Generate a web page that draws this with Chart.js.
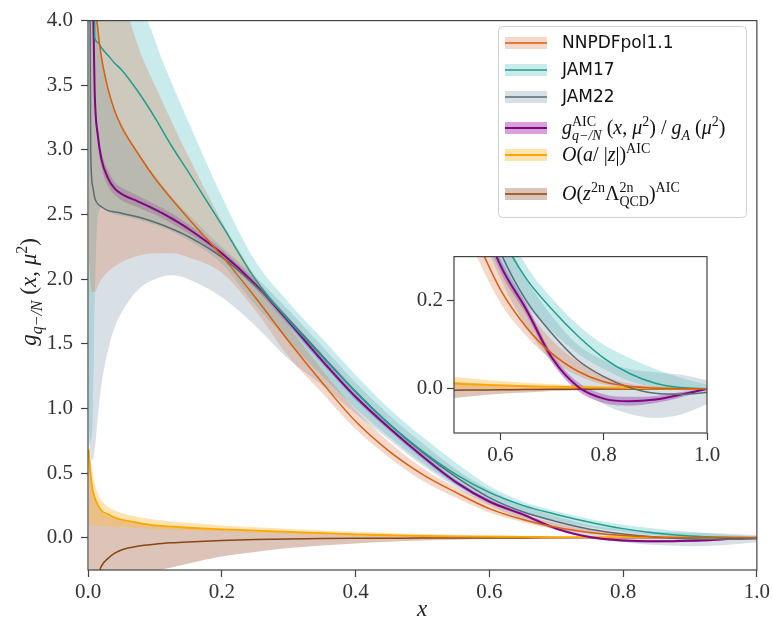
<!DOCTYPE html>
<html>
<head>
<meta charset="utf-8">
<script src="https://cdn.jsdelivr.net/npm/chart.js@4.4.1/dist/chart.umd.min.js"></script>
<style>
  html, body { margin: 0; padding: 0; background: #fff; }
  #wrap { position: relative; width: 773px; height: 626px; }
  canvas { position: absolute; }
  #main { left: 0; top: 0; }
  #inset { left: 400px; top: 240px; }
</style>
</head>
<body>
<div id="wrap">
  <canvas id="main" width="773" height="626"></canvas>
  <canvas id="inset" width="330" height="240"></canvas>
</div>
<script>
// x grid shared by all curves
const X = [0.001, 0.004, 0.007, 0.01, 0.015, 0.02, 0.03, 0.04, 0.05, 0.075, 0.1, 0.125, 0.15, 0.2, 0.25,
           0.3, 0.35, 0.4, 0.45, 0.5, 0.55, 0.6, 0.65, 0.7, 0.75, 0.8, 0.85, 0.9, 0.95, 1.0];

// NNPDFpol1.1
const NNPDF_MID = [8, 6.5, 5.2, 4.3, 3.92, 3.72, 3.47, 3.3, 3.18, 2.97, 2.78, 2.62, 2.47, 2.18, 1.86, 1.52, 1.2, 0.9, 0.67, 0.49, 0.35, 0.225, 0.14, 0.08, 0.04, 0.016, 0.006, 0.002, 0.0005, 0];
const NNPDF_HI  = [9, 8, 7, 6, 5.5, 5.2, 4.8, 4.5, 4.25, 3.8, 3.5, 3.22, 2.95, 2.45, 2.02, 1.64, 1.3, 0.99, 0.74, 0.54, 0.39, 0.27, 0.18, 0.11, 0.062, 0.03, 0.012, 0.005, 0.002, 0];
const NNPDF_LO  = [2.2, 1.95, 1.9, 1.9, 1.95, 2.0, 2.06, 2.1, 2.13, 2.18, 2.2, 2.2, 2.17, 2.05, 1.76, 1.4, 1.12, 0.84, 0.62, 0.44, 0.31, 0.195, 0.12, 0.065, 0.03, 0.01, 0.002, 0, 0, 0];

// JAM17
const JAM17_MID = [7, 6.5, 6, 3.87, 3.83, 3.79, 3.73, 3.67, 3.62, 3.45, 3.25, 3.03, 2.83, 2.42, 2.0, 1.68, 1.4, 1.13, 0.88, 0.67, 0.49, 0.35, 0.25, 0.18, 0.12, 0.07, 0.035, 0.013, 0.003, 0];
const JAM17_HI  = [9, 9, 9, 8, 7.5, 7, 6.5, 6, 5.5, 4.3, 3.85, 3.52, 3.22, 2.64, 2.14, 1.82, 1.54, 1.26, 1.0, 0.78, 0.58, 0.4, 0.28, 0.205, 0.145, 0.1, 0.07, 0.045, 0.025, 0.01];
const JAM17_LO  = [0.7, 0.75, 0.9, 1.8, 2.5, 2.55, 2.52, 2.5, 2.49, 2.46, 2.42, 2.37, 2.3, 2.12, 1.8, 1.52, 1.25, 1.0, 0.78, 0.58, 0.41, 0.28, 0.19, 0.13, 0.08, 0.045, 0.018, 0.004, -0.003, -0.01];

// JAM22
const JAM22_MID = [7, 3.0, 2.72, 2.63, 2.58, 2.56, 2.53, 2.52, 2.51, 2.48, 2.44, 2.39, 2.33, 2.17, 1.95, 1.69, 1.41, 1.13, 0.88, 0.66, 0.47, 0.31, 0.2, 0.125, 0.065, 0.028, 0.003, -0.01, -0.012, -0.008];
const JAM22_HI  = [9, 6, 5, 4.3, 3.95, 3.75, 3.5, 3.32, 3.2, 2.98, 2.8, 2.64, 2.5, 2.25, 2.02, 1.76, 1.48, 1.2, 0.95, 0.73, 0.53, 0.37, 0.25, 0.165, 0.1, 0.065, 0.045, 0.038, 0.032, 0.02];
const JAM22_LO  = [0.9, 0.62, 0.6, 0.68, 0.95, 1.18, 1.45, 1.63, 1.74, 1.92, 2.0, 2.03, 2.0, 1.86, 1.64, 1.38, 1.18, 0.96, 0.76, 0.56, 0.39, 0.25, 0.14, 0.06, 0.005, -0.035, -0.057, -0.066, -0.058, -0.035];

// g^AIC / g_A
const AIC_MID = [7, 5.5, 4.3, 3.45, 3.1, 2.93, 2.78, 2.7, 2.66, 2.6, 2.54, 2.47, 2.39, 2.2, 1.96, 1.67, 1.37, 1.09, 0.85, 0.63, 0.43, 0.28, 0.18, 0.07, 0.005, -0.022, -0.028, -0.024, -0.013, 0];
const AIC_HI  = [7.3, 5.7, 4.42, 3.53, 3.16, 2.99, 2.84, 2.75, 2.71, 2.645, 2.58, 2.51, 2.425, 2.23, 1.99, 1.7, 1.395, 1.115, 0.87, 0.65, 0.448, 0.295, 0.192, 0.08, 0.015, -0.012, -0.018, -0.016, -0.007, 0];
const AIC_LO  = [6.7, 5.3, 4.18, 3.37, 3.04, 2.87, 2.72, 2.65, 2.61, 2.555, 2.5, 2.43, 2.355, 2.17, 1.93, 1.64, 1.345, 1.065, 0.83, 0.61, 0.412, 0.265, 0.168, 0.06, -0.005, -0.032, -0.038, -0.032, -0.019, 0];

// O(a/|z|)
const AZ_MID = [0.68, 0.48, 0.37, 0.31, 0.25, 0.21, 0.18, 0.155, 0.14, 0.115, 0.095, 0.085, 0.077, 0.065, 0.055, 0.045, 0.035, 0.026, 0.019, 0.013, 0.01, 0.008, 0.006, 0.005, 0.004, 0.003, 0.002, 0.001, 0.0005, 0];
const AZ_HI  = [0.75, 0.6, 0.5, 0.42, 0.34, 0.29, 0.24, 0.21, 0.19, 0.16, 0.14, 0.125, 0.115, 0.095, 0.08, 0.068, 0.055, 0.045, 0.036, 0.028, 0.023, 0.018, 0.014, 0.011, 0.008, 0.006, 0.004, 0.002, 0.001, 0];
const AZ_LO  = [0.1, 0.1, 0.098, 0.095, 0.092, 0.09, 0.086, 0.083, 0.08, 0.072, 0.065, 0.06, 0.055, 0.045, 0.037, 0.028, 0.02, 0.012, 0.006, 0.002, 0.001, 0, 0, 0, 0, 0, 0, 0, 0, 0];

// O(z^2n Lambda^2n)
const LQ_MID = [-3, -1, -0.6, -0.42, -0.3, -0.22, -0.16, -0.12, -0.095, -0.065, -0.05, -0.04, -0.033, -0.022, -0.015, -0.01, -0.007, -0.005, -0.004, -0.003, -0.0025, -0.002, -0.0015, -0.001, -0.0008, -0.0005, -0.0003, -0.0002, -0.0001, 0];
const LQ_HI  = [0.65, 0.46, 0.36, 0.3, 0.24, 0.2, 0.17, 0.15, 0.135, 0.11, 0.09, 0.08, 0.072, 0.06, 0.05, 0.042, 0.035, 0.028, 0.022, 0.017, 0.013, 0.01, 0.008, 0.006, 0.004, 0.003, 0.002, 0.001, 0, 0];
const LQ_LO  = [-6, -3, -2, -1.5, -1.1, -0.9, -0.7, -0.55, -0.45, -0.32, -0.26, -0.23, -0.2, -0.145, -0.11, -0.08, -0.06, -0.045, -0.032, -0.022, -0.016, -0.011, -0.008, -0.005, -0.003, -0.002, -0.001, 0, 0, 0];

const X_TICKS = [0.0, 0.2, 0.4, 0.6, 0.8, 1.0];
const Y_TICKS = [0.0, 0.5, 1.0, 1.5, 2.0, 2.5, 3.0, 3.5, 4.0];
const INSET_X_TICKS = [0.6, 0.8, 1.0];
const INSET_Y_TICKS = [0.0, 0.2];

const MATH = '"Liberation Serif", "DejaVu Serif", serif';
const AXIS = '#444';

const SERIES = [
  { mid: NNPDF_MID, hi: NNPDF_HI, lo: NNPDF_LO, line: '#d95f0e', band: 'rgba(215,110,65,0.27)', w: 1.5 },
  { mid: JAM17_MID, hi: JAM17_HI, lo: JAM17_LO, line: '#1f9e8e', band: 'rgba(80,190,190,0.30)', w: 1.5 },
  { mid: JAM22_MID, hi: JAM22_HI, lo: JAM22_LO, line: '#5d6b74', band: 'rgba(120,145,160,0.28)', w: 1.5 },
  { mid: AIC_MID, hi: AIC_HI, lo: AIC_LO, line: '#850085', band: 'rgba(160,50,170,0.45)', w: 2 },
  { mid: AZ_MID, hi: AZ_HI, lo: AZ_LO, line: '#ffa500', band: 'rgba(255,185,60,0.40)', w: 1.8 },
  { mid: LQ_MID, hi: LQ_HI, lo: LQ_LO, line: '#8b4513', band: 'rgba(150,80,40,0.33)', w: 1.5 }
];

const pts = arr => X.map((x, i) => ({ x: x, y: arr[i] }));

function buildDatasets() {
  const lines = [], bands = [];
  SERIES.forEach((s, k) => {
    lines.push({ data: pts(s.mid), borderColor: s.line, borderWidth: s.w, pointRadius: 0, fill: false,
                 cubicInterpolationMode: 'monotone', clip: 0, order: k });
  });
  SERIES.forEach(s => {
    bands.push({ data: pts(s.hi), borderWidth: 0, pointRadius: 0, backgroundColor: s.band, fill: '+1',
                 cubicInterpolationMode: 'monotone', clip: 0, order: 20 });
    bands.push({ data: pts(s.lo), borderWidth: 0, pointRadius: 0, fill: false,
                 cubicInterpolationMode: 'monotone', clip: 0, order: 20 });
  });
  return lines.concat(bands);
}

// small math typesetter: i = italic, l = 1 sup / -1 sub, st = stack on previous token
function mathRun(ctx, toks, x, y, size, draw) {
  let cx = x, ps = x, pw = 0;
  toks.forEach(k => {
    const s = k.l ? Math.round(size * 0.7) : size;
    ctx.font = (k.i ? 'italic ' : '') + s + 'px ' + MATH;
    const w = ctx.measureText(k.t).width;
    const sx = k.st ? ps : cx;
    const dy = k.l === 1 ? -size * 0.4 : (k.l === -1 ? size * 0.28 : 0);
    if (draw) ctx.fillText(k.t, sx, y + dy);
    if (k.st) { cx = ps + Math.max(pw, w); } else { ps = sx; pw = w; cx = sx + w; }
  });
  return cx - x;
}

const LEGEND = [
  { text: 'NNPDFpol1.1', y: 43 },
  { text: 'JAM17', y: 70 },
  { text: 'JAM22', y: 97 },
  { math: [{t:'g',i:1},{t:'AIC',l:1},{t:'q\u2212/N',l:-1,i:1,st:1},{t:' ('},{t:'x',i:1},{t:', '},{t:'\u03bc',i:1},{t:'2',l:1},
           {t:') / '},{t:'g',i:1},{t:'A',l:-1,i:1},{t:' ('},{t:'\u03bc',i:1},{t:'2',l:1},{t:')'}], y: 128 },
  { math: [{t:'O',i:1},{t:'('},{t:'a',i:1},{t:'/ |'},{t:'z',i:1},{t:'|)'},{t:'AIC',l:1}], y: 155 },
  { math: [{t:'O',i:1},{t:'('},{t:'z',i:1},{t:'2n',l:1},{t:'\u039b'},{t:'2n',l:1},{t:'QCD',l:-1,st:1},{t:')'},{t:'AIC',l:1}], y: 194 }
];

const framePlugin = {
  id: 'frame',
  beforeDatasetsDraw(chart, args, opts) {
    if (!opts.white) return;
    const a = chart.chartArea, ctx = chart.ctx;
    ctx.save(); ctx.fillStyle = '#fff';
    ctx.fillRect(a.left, a.top, a.right - a.left, a.bottom - a.top);
    ctx.restore();
  },
  afterDraw(chart) {
    const a = chart.chartArea, ctx = chart.ctx;
    ctx.save(); ctx.strokeStyle = AXIS; ctx.lineWidth = 1.2;
    ctx.strokeRect(a.left, a.top, a.right - a.left, a.bottom - a.top);
    ctx.restore();
  }
};

const decorPlugin = {
  id: 'decor',
  afterDraw(chart) {
    const ctx = chart.ctx;
    ctx.save();
    // legend box
    ctx.beginPath();
    ctx.roundRect(498.5, 26.5, 248, 191, 4);
    ctx.fillStyle = 'rgba(255,255,255,0.85)'; ctx.fill();
    ctx.strokeStyle = '#d0d0d0'; ctx.lineWidth = 1; ctx.stroke();
    LEGEND.forEach((e, k) => {
      const s = SERIES[k], cy = e.y;
      ctx.fillStyle = s.band; ctx.fillRect(505, cy - 6, 42, 12);
      ctx.strokeStyle = s.line; ctx.lineWidth = s.w;
      ctx.beginPath(); ctx.moveTo(505, cy); ctx.lineTo(547, cy); ctx.stroke();
      ctx.fillStyle = '#111';
      if (e.text) {
        ctx.font = '17px "DejaVu Sans"'; ctx.textBaseline = 'middle';
        ctx.fillText(e.text, 562, cy + 1);
      } else {
        ctx.textBaseline = 'alphabetic';
        mathRun(ctx, e.math, 562, cy + 6, 20, true);
      }
    });
    // axis titles
    ctx.fillStyle = '#222'; ctx.textBaseline = 'alphabetic';
    ctx.font = 'italic 23px ' + MATH;
    ctx.textAlign = 'center'; ctx.fillText('x', 422, 616); ctx.textAlign = 'left';
    const ylab = [{t:'g',i:1},{t:'q\u2212/N',l:-1,i:1},{t:' ('},{t:'x',i:1},{t:', '},{t:'\u03bc',i:1},{t:'2',l:1},{t:')'}];
    ctx.translate(36, 292); ctx.rotate(-Math.PI / 2);
    const w = mathRun(ctx, ylab, 0, 0, 23, false);
    mathRun(ctx, ylab, -w / 2, 0, 23, true);
    ctx.restore();
  }
};

function axisOpts(min, max, ticks, fitKey, fitVal, pad) {
  return {
    type: 'linear', min: min, max: max,
    afterBuildTicks: s => { s.ticks = ticks.map(v => ({ value: v })); },
    afterFit: s => { s[fitKey] = fitVal; },
    grid: { drawOnChartArea: false, drawTicks: true, tickLength: 7, color: AXIS, tickWidth: 1.2 },
    border: { display: false },
    ticks: { font: { family: MATH, size: 21 }, color: '#333', padding: pad, maxRotation: 0,
             callback: v => Number(v).toFixed(1) }
  };
}

const common = {
  responsive: false, animation: false, events: [],
  plugins: { legend: { display: false }, tooltip: { enabled: false } }
};

new Chart(document.getElementById('main').getContext('2d'), {
  type: 'line',
  data: { datasets: buildDatasets() },
  options: Object.assign({}, common, {
    layout: { padding: { top: 16, right: 16, left: 0, bottom: 0 } },
    scales: {
      x: axisOpts(0, 1, X_TICKS, 'height', 56, 3),
      y: axisOpts(-0.25, 4.0, Y_TICKS, 'width', 88, 8)
    },
    plugins: Object.assign({}, common.plugins, { frame: { white: false } })
  }),
  plugins: [framePlugin, decorPlugin]
});

new Chart(document.getElementById('inset').getContext('2d'), {
  type: 'line',
  data: { datasets: buildDatasets() },
  options: Object.assign({}, common, {
    layout: { padding: { top: 14, right: 23, left: 0, bottom: 0 } },
    scales: {
      x: axisOpts(0.51, 1.0, INSET_X_TICKS, 'height', 47, 3),
      y: axisOpts(-0.1, 0.3, INSET_Y_TICKS, 'width', 54, 4)
    },
    plugins: Object.assign({}, common.plugins, { frame: { white: true } })
  }),
  plugins: [framePlugin]
});
</script>
</body>
</html>
